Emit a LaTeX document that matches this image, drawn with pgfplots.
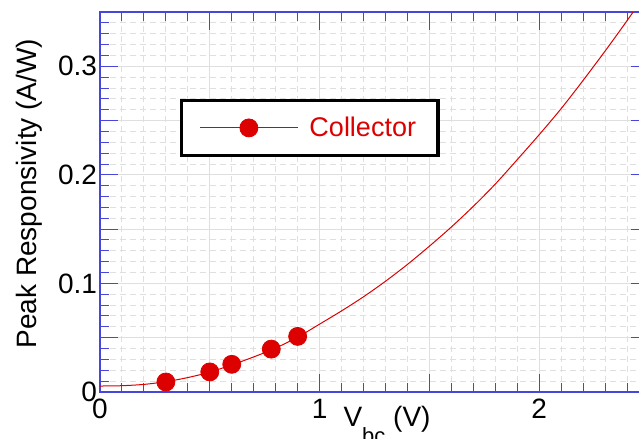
\documentclass[border=0pt]{standalone}
\usepackage{pgfplots}
\pgfplotsset{compat=1.18}
\usepackage{fontspec}
\setmainfont{Liberation Sans}
\definecolor{cred}{RGB}{221,0,0}
\definecolor{cblue}{RGB}{70,70,220}

% fitted curve
\pgfplotstableread{
x y
0.0 0.0055
0.1 0.0058
0.2 0.0070
0.3 0.0095
0.4 0.0133
0.5 0.0183
0.6 0.0250
0.7 0.0323
0.8 0.0405
0.9 0.0505
1.0 0.0625
1.1 0.0747
1.2 0.0877
1.3 0.1020
1.4 0.1175
1.5 0.1343
1.6 0.1520
1.7 0.1710
1.8 0.1915
1.9 0.2140
2.0 0.2370
2.1 0.2610
2.2 0.2870
2.3 0.3140
2.4 0.3420
2.5 0.3710
}\curve

% measured points
\pgfplotstableread{
x y
0.30 0.0092
0.50 0.0185
0.60 0.0255
0.78 0.0395
0.90 0.0512
}\meas

\begin{document}
\begin{tikzpicture}
\begin{axis}[
  at={(0,0)}, anchor=south west,
  scale only axis, width=274.5pt, height=190pt,
  xmin=0, xmax=2.5, ymin=0, ymax=0.35,
  xtick={0,0.5,1,1.5,2,2.5}, xticklabels={0,,1,,2,},
  ytick={0,0.05,0.1,0.15,0.2,0.25,0.3,0.35},
  yticklabels={0,,0.1,,0.2,,0.3,},
  minor x tick num=4, minor y tick num=4,
  tick align=inside,
  major tick length=9pt, minor tick length=4.5pt,
  tick style={cblue, line width=0.5pt},
  axis line style={cblue, line width=0.8pt},
  grid=both,
  major grid style={gray!25, line width=0.6pt, solid},
  minor grid style={gray!25, line width=0.5pt, dash pattern=on 3pt off 2pt},
  tick label style={font=\fontsize{14}{16}\selectfont},
  yticklabel style={xshift=2pt},
  ylabel={Peak Responsivity (A/W)},
  ylabel style={font=\fontsize{14}{16}\selectfont, at={(ticklabel cs:0.522,1pt)}},
  xlabel={V\raisebox{-8.5pt}{\fontsize{11}{13}\selectfont bc} (V)},
  xlabel style={at={(axis description cs:0.5228,0)}, anchor=base, yshift=-17.5pt,
    font=\fontsize{14}{16}\selectfont},
  legend style={at={(axis description cs:0.382,0.695)}, anchor=center,
    draw=black, line width=1.6pt, inner xsep=9pt, inner ysep=6.25pt,
    font=\fontsize{13.5}{15}\selectfont},
  legend cell align=left,
  legend image code/.code={
    \draw[cred, line width=0.5pt] (0pt,0pt) -- (49pt,0pt);
    \draw[#1] plot coordinates {(24.5pt,0pt)};
    \path (52pt,0pt);
  },
]
\addplot[cred, line width=0.5pt, no marks, smooth, forget plot] table {\curve};
\addplot[cred, only marks, mark=*, mark size=4.5pt, mark options={line width=0.4pt}] table {\meas};
\addlegendentry{\textcolor{cred}{Collector}}
\end{axis}
\pgfresetboundingbox
\path (-50pt,-23.5pt) rectangle (269.5pt,196pt);
\end{tikzpicture}
\end{document}
